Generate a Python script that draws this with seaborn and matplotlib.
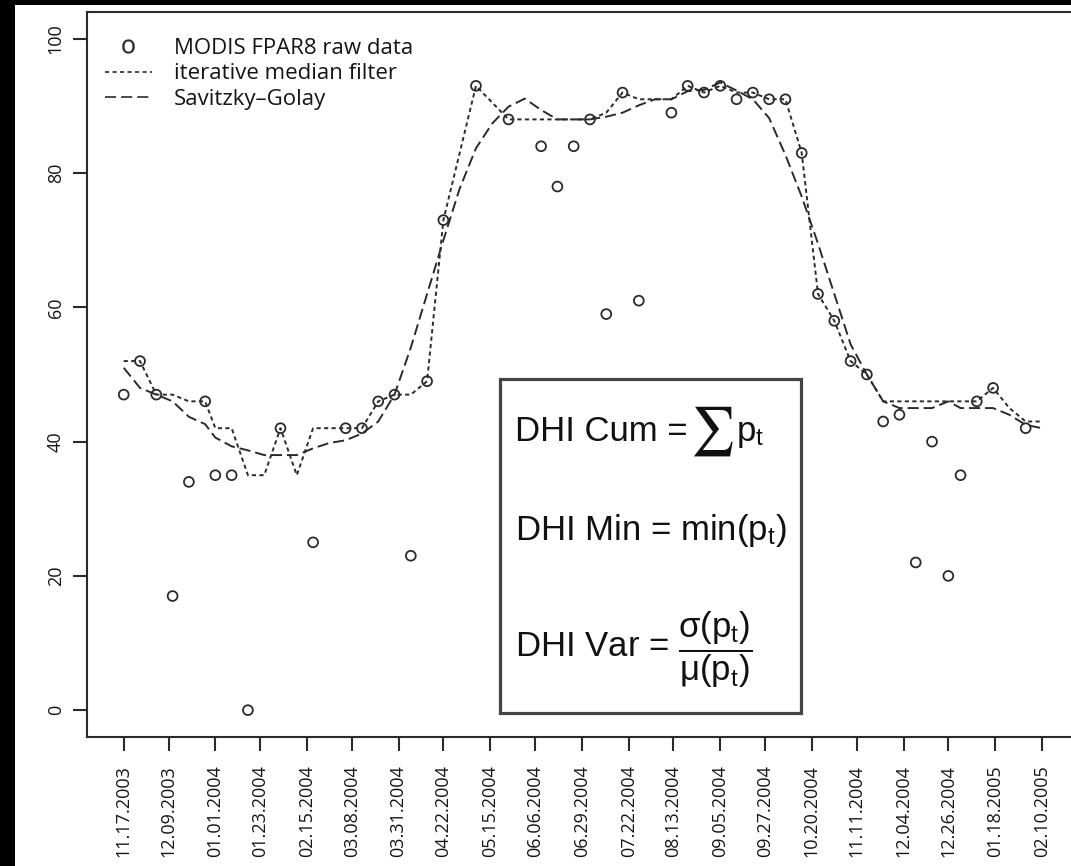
import numpy as np
import pandas as pd
import matplotlib
matplotlib.use("Agg")
import matplotlib.pyplot as plt
from matplotlib.lines import Line2D
from matplotlib.patches import Rectangle
import seaborn as sns

nan = np.nan

# MODIS 8-day composite start dates
composite_dates = [
    "11.17.2003", "11.25.2003", "12.03.2003", "12.11.2003", "12.19.2003", "12.27.2003",
    "01.01.2004", "01.09.2004", "01.17.2004", "01.25.2004", "02.02.2004", "02.10.2004",
    "02.18.2004", "02.26.2004", "03.05.2004", "03.13.2004", "03.21.2004", "03.29.2004",
    "04.06.2004", "04.14.2004", "04.22.2004", "04.30.2004", "05.08.2004", "05.16.2004",
    "05.24.2004", "06.01.2004", "06.09.2004", "06.17.2004", "06.25.2004", "07.03.2004",
    "07.11.2004", "07.19.2004", "07.27.2004", "08.04.2004", "08.12.2004", "08.20.2004",
    "08.28.2004", "09.05.2004", "09.13.2004", "09.21.2004", "09.29.2004", "10.07.2004",
    "10.15.2004", "10.23.2004", "10.31.2004", "11.08.2004", "11.16.2004", "11.24.2004",
    "12.02.2004", "12.10.2004", "12.18.2004", "12.26.2004",
    "01.01.2005", "01.09.2005", "01.17.2005", "01.25.2005", "02.02.2005", "02.10.2005",
]

# FPAR (%) per composite; nan = invalid / fill value
fpar_raw = [
    47, 52, 47, 17, 34, 46,
    35, 35, 0, nan, 42, nan,
    25, nan, 42, 42, 46, 47,
    23, 49, 73, nan, 93, nan,
    88, nan, 84, 78, 84, 88,
    59, 92, 61, nan, 89, 93,
    92, 93, 91, 92, 91, 91,
    83, 62, 58, 52, 50, 43,
    44, 22, 40, 20,
    35, 46, 48, nan, 42, nan,
]

median_filter = [
    52, 52, 47, 47, 46, 46,
    42, 42, 35, 35, 42, 35,
    42, 42, 42, 42, 46, 47,
    47, 49, 73, 83, 93, 90.5,
    88, 88, 88, 88, 88, 88,
    89, 92, 91, 91, 91, 93,
    92, 93, 92, 92, 91, 91,
    83, 62, 58, 52, 50, 46,
    46, 46, 46, 46,
    46, 46, 48, 45, 43, 43,
]

savitzky_golay = [
    51, 48, 47, 46, 43.7, 42.6,
    40.6, 39.3, 38.7, 38, 38, 38,
    39, 39.8, 40.2, 41.2, 43, 47,
    54, 62, 70, 77.7, 83.7, 87.4,
    89.9, 91.1, 89.4, 88, 88, 88,
    88.4, 89, 90.1, 91, 91, 92.2,
    92.4, 93.5, 92.3, 91, 88.2, 82.7,
    76.5, 69.5, 62, 54.5, 50, 46,
    45, 45, 45, 46,
    45, 45, 45, 44, 42.5, 42,
]

tick_labels = [
    "11.17.2003", "12.09.2003", "01.01.2004", "01.23.2004", "02.15.2004",
    "03.08.2004", "03.31.2004", "04.22.2004", "05.15.2004", "06.06.2004",
    "06.29.2004", "07.22.2004", "08.13.2004", "09.05.2004", "09.27.2004",
    "10.20.2004", "11.11.2004", "12.04.2004", "12.26.2004", "01.18.2005",
    "02.10.2005",
]
y_ticks = [0, 20, 40, 60, 80, 100]

legend_labels = ["MODIS FPAR8 raw data", "iterative median filter", "Savitzky\u2013Golay"]

sns.set_theme(style="ticks")
plt.rcParams["font.family"] = ["Open Sans", "DejaVu Sans"]
plt.rcParams["mathtext.fontset"] = "stix"
plt.rcParams["lines.scale_dashes"] = False

W, H = 1071, 866
ink = "#2b2b2b"
dotted = (0, (3.0, 2.4))
dashed = (0, (8.0, 3.6))

fig = plt.figure(figsize=(W / 100, H / 100), dpi=100, facecolor="black")
fig.patches.append(Rectangle((15 / W, 0), 1 - 15 / W, 1 - 5 / H,
                             transform=fig.transFigure, facecolor="white",
                             edgecolor="none", zorder=-10))
ax = fig.add_axes([87 / W, 1 - 737 / H, (1078.7 - 87) / W, (737 - 12) / H])
ax.set_facecolor("white")

df = pd.DataFrame({
    "date": pd.to_datetime(composite_dates, format="%m.%d.%Y"),
    "raw": fpar_raw,
    "median": median_filter,
    "sg": savitzky_golay,
})

sns.lineplot(data=df, x="date", y="median", ax=ax, color=ink, lw=1.4, linestyle=dotted)
sns.lineplot(data=df, x="date", y="sg", ax=ax, color=ink, lw=1.4, linestyle=dashed)
sns.scatterplot(data=df, x="date", y="raw", ax=ax, s=50, marker="o")
pts = ax.collections[-1]
pts.set_facecolor("none")
pts.set_edgecolor(ink)
pts.set_linewidth(1.3)

tick_dates = pd.to_datetime(tick_labels, format="%m.%d.%Y")
pad = (tick_dates[-1] - tick_dates[0]) * 0.04
ax.set_xlim(tick_dates[0] - pad, tick_dates[-1] + pad)
ax.set_ylim(-4, 104)
ax.set_xticks(tick_dates)
ax.set_xticklabels(tick_labels, rotation=90, ha="center", va="top")
ax.set_yticks(y_ticks)
ax.set_yticklabels([str(v) for v in y_ticks], rotation=90, va="center")
ax.set_xlabel("")
ax.set_ylabel("")
ax.tick_params(axis="both", length=10, width=1.5, color=ink, labelsize=13,
               labelcolor="#151515", direction="out")
ax.tick_params(axis="x", pad=10.5)
ax.tick_params(axis="y", pad=6)
for sp in ax.spines.values():
    sp.set_visible(True)
    sp.set_color(ink)
    sp.set_linewidth(1.5)

handles = [
    Line2D([], [], ls="none", marker=r"$\mathregular{o}$", markersize=10,
           markeredgewidth=0.2, color=ink),
    Line2D([], [], color=ink, lw=1.2, linestyle=dotted),
    Line2D([], [], color=ink, lw=1.2, linestyle=dashed),
]
ax.legend(handles, legend_labels, loc="upper left",
          bbox_to_anchor=(105 / W, 1 - 38 / H), bbox_transform=fig.transFigure,
          frameon=False, fontsize=16, handlelength=2.1, handletextpad=1.0,
          labelspacing=0.2, borderpad=0, borderaxespad=0, labelcolor="#151515")

# index definitions box
fig.patches.append(Rectangle((500 / W, 1 - 713 / H), (801 - 500) / W, (713 - 379) / H,
                             transform=fig.transFigure, facecolor="white",
                             edgecolor="#444444", lw=2.3, zorder=5))
box_font = dict(fontfamily=["Liberation Sans", "DejaVu Sans"], fontsize=25,
                color="#111111", ha="left", va="baseline", zorder=6)
fig.text(515 / W, 1 - 441 / H, "DHI Cum =", **box_font)
fig.text(690 / W, 1 - 431 / H, r"$\sum$", fontsize=35, color="#111111",
         ha="left", va="center", zorder=6)
fig.text(736 / W, 1 - 441 / H, r"p$_\mathregular{t}$", **box_font)
fig.text(515 / W, 1 - 540 / H, r"DHI Min = min(p$_\mathregular{t}$)", **box_font)
fig.text(515 / W, 1 - 657 / H,
         r"DHI Var = $\dfrac{\mathregular{σ(p_t)}}{\mathregular{μ(p_t)}}$", **box_font)

fig.savefig("out.png", dpi=100, facecolor=fig.get_facecolor())
